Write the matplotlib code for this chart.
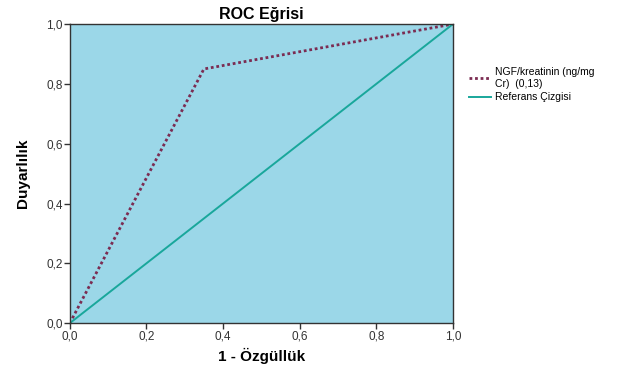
import matplotlib
matplotlib.use("Agg")
import matplotlib.pyplot as plt
from matplotlib.ticker import FuncFormatter

plt.rcParams["font.family"] = ["Liberation Sans", "DejaVu Sans"]

# ROC data
fpr = [0.0, 0.35, 1.0]
tpr = [0.0, 0.85, 1.0]
ref_x = [0.0, 1.0]
ref_y = [0.0, 1.0]
ticks = [0.0, 0.2, 0.4, 0.6, 0.8, 1.0]
curve_label = "NGF/kreatinin (ng/mg\nCr)  (0,13)"
ref_label = "Referans Çizgisi"

fig = plt.figure(figsize=(6.29, 3.71), dpi=100)
ax = fig.add_axes([0.111, 0.129, 0.609, 0.806])
ax.set_facecolor("#9bd7e8")

ax.plot(fpr, tpr, linestyle=(0, (1, 1)), color="#7b2c52", linewidth=2.0, label=curve_label)
ax.plot(ref_x, ref_y, color="#19a79b", linewidth=1.4, label=ref_label)

ax.set_xlim(0, 1)
ax.set_ylim(0, 1)
ax.set_xticks(ticks)
ax.set_yticks(ticks)
comma = FuncFormatter(lambda v, p: f"{v:.1f}".replace(".", ","))
ax.xaxis.set_major_formatter(comma)
ax.yaxis.set_major_formatter(comma)
ax.tick_params(direction="out", length=4, width=1, labelsize=8.5, colors="#333333", pad=1)
for s in ax.spines.values():
    s.set_color("#333333")
    s.set_linewidth(1)

ax.set_title("ROC Eğrisi", fontsize=11.5, fontweight="bold", pad=4)
ax.set_xlabel("1 - Özgüllük", fontsize=11, fontweight="bold", labelpad=4)
ax.set_ylabel("Duyarlılık", fontsize=11, fontweight="bold", labelpad=12, fontstretch="condensed")

leg = ax.legend(loc="upper left", bbox_to_anchor=(1.03, 0.87), frameon=False,
                fontsize=7.5, handlelength=2.2, handletextpad=0.3,
                labelspacing=0.35, borderaxespad=0)

fig.savefig("out.png", dpi=100)
